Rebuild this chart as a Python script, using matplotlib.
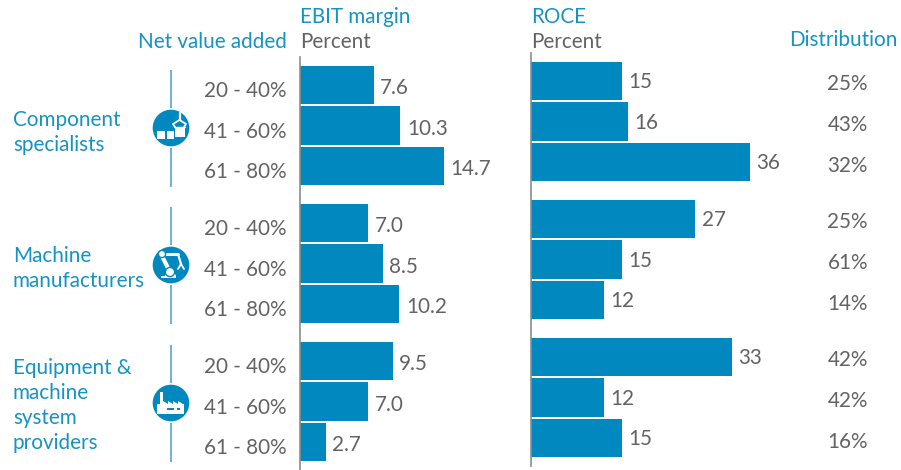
import matplotlib
matplotlib.use("Agg")
import matplotlib.pyplot as plt
from matplotlib.patches import Circle, Rectangle, Polygon

plt.rcParams['font.family'] = ['Lato', 'Open Sans', 'DejaVu Sans']

groups = [["Component", "specialists"],
          ["Machine", "manufacturers"],
          ["Equipment &", "machine", "system", "providers"]]
bands = ["20 - 40%", "41 - 60%", "61 - 80%"]
ebit = [[7.6, 10.3, 14.7], [7.0, 8.5, 10.2], [9.5, 7.0, 2.7]]
roce = [[15, 16, 36], [27, 15, 12], [33, 12, 15]]
distribution = [[25, 43, 32], [25, 61, 14], [42, 42, 16]]

BLUE = "#0088BF"
TXT_BLUE = "#1593C4"
LINE_BLUE = "#5BB0D6"
GREY = "#636363"
AXIS = "#8C8C8C"
FS = 14.9

W, H = 901, 470
fig = plt.figure(figsize=(W / 100, H / 100), dpi=100, facecolor="white")

ov = fig.add_axes([0, 0, 1, 1], zorder=1)
ov.set_xlim(0, W); ov.set_ylim(H, 0); ov.axis("off")

def row_y(top, g, r):
    return top + g * 138 + r * 40.5

def bar_panel(x0, x1, y0, y1, top, xmax, values, fmt, label_dy):
    ax = fig.add_axes([x0 / W, 1 - y1 / H, (x1 - x0) / W, (y1 - y0) / H], zorder=2)
    ax.patch.set_alpha(0)
    ax.set_xlim(0, xmax); ax.set_ylim(y1, y0)
    for g, vals in enumerate(values):
        for r, v in enumerate(vals):
            y = row_y(top, g, r)
            ax.barh(y, v, height=38.8, color=BLUE, linewidth=0)
            ax.annotate(fmt(v), (v, y), xytext=(4.6, label_dy), textcoords="offset points",
                        va="center", ha="left", fontsize=FS, color=GREY)
    for s in ("top", "right", "bottom"):
        ax.spines[s].set_visible(False)
    ax.spines["left"].set_color(AXIS); ax.spines["left"].set_linewidth(1.2)
    ax.set_xticks([]); ax.set_yticks([])
    return ax

# xmax = width in px / px per unit
bar_panel(299.5, 520, 57, 470, 85, (520 - 299.5) / 9.8, ebit, lambda v: f"{v:.1f}", -2.4)
bar_panel(531, 790, 53, 466, 81, (790 - 531) / 6.08, roce, lambda v: f"{v}", -0.9)

# Headers
ov.text(300.5, 17, "EBIT margin", color=TXT_BLUE, fontsize=FS, va="center")
ov.text(300.5, 42.5, "Percent", color=GREY, fontsize=FS, va="center")
ov.text(287, 42.5, "Net value added", color=TXT_BLUE, fontsize=FS, va="center", ha="right")
ov.text(531.5, 17, "ROCE", color=TXT_BLUE, fontsize=FS, va="center")
ov.text(531.5, 42.5, "Percent", color=GREY, fontsize=FS, va="center")
ov.text(789.5, 40.5, "Distribution", color=TXT_BLUE, fontsize=FS, va="center")

# Row labels and distribution
for g in range(3):
    for r, b in enumerate(bands):
        ov.text(287, row_y(91, g, r), b, color=GREY, fontsize=FS, va="center", ha="right")
        ov.text(868, row_y(84.5, g, r), f"{distribution[g][r]}%", color=GREY, fontsize=FS,
                va="center", ha="right")

# Group labels
for lines, y0 in zip(groups, (119.5, 255.5, 367.5)):
    for i, t in enumerate(lines):
        ov.text(13, y0 + i * 25.2, t, color=TXT_BLUE, fontsize=FS, va="center")

# Vertical rules and icons
for g, cy in enumerate((128, 265, 403)):
    ov.plot([171, 171], [cy - 58.5, cy + 58.5], color=LINE_BLUE, lw=1.3, zorder=1, solid_capstyle="butt")
    ov.add_patch(Circle((171, cy), 20, fc="white", ec="none", zorder=2))
    ov.add_patch(Circle((171, cy), 18.3, fc=BLUE, ec="none", zorder=3))

def wrect(x, y, w, h):
    ov.add_patch(Rectangle((x, y), w, h, fc="white", ec="none", zorder=4))

def wline(xs, ys, lw=1.3):
    ov.plot(xs, ys, color="white", lw=lw, zorder=4, solid_capstyle="round")

# Icon 1: boxes and gripper
cx, cy = 171, 128
wrect(cx - 14, cy + 3, 8, 8); wrect(cx - 4, cy + 3, 7, 8)
wrect(cx + 4, cy, 10, 9)
wline([cx + 8.5, cx + 8.5], [cy - 15, cy - 8], 1.6)
wline([cx + 8.5, cx + 2, cx + 4], [cy - 8, cy - 4, cy - 1])
wline([cx + 8.5, cx + 15, cx + 13], [cy - 8, cy - 4, cy - 1])
wline([cx + 3, cx + 14], [cy - 1.5, cy - 1.5], 1.0)

# Icon 2: robot arm
cx, cy = 171, 265
wrect(cx - 10, cy + 11, 15, 2)
wline([cx - 1, cx - 9], [cy + 7, cy - 9], 3)
wline([cx - 9, cx + 7], [cy - 11, cy - 11], 2.2)
wline([cx + 7, cx + 10], [cy - 11, cy - 1], 1.6)
wline([cx + 10, cx + 7], [cy - 1, cy + 4])
wline([cx + 10, cx + 13], [cy - 1, cy + 4])
for px, py, rad in ((-9, -11, 3.6), (-1, 7, 4.6)):
    ov.add_patch(Circle((cx + px, cy + py), rad, fc="white", ec=BLUE, lw=1, zorder=5))
ov.add_patch(Polygon([(cx - 6, cy + 11), (cx - 3, cy + 4), (cx + 2, cy + 4), (cx + 5, cy + 11)],
                     fc="white", ec="none", zorder=4))

# Icon 3: factory
cx, cy = 171, 403
wrect(cx - 11, cy - 11, 3, 14)
saw = [(cx - 8, cy + 1), (cx - 8, cy - 2), (cx - 3, cy + 1), (cx - 3, cy - 2), (cx + 2, cy + 1),
       (cx + 2, cy - 2), (cx + 7, cy + 1), (cx + 7, cy - 2), (cx + 12, cy + 1)]
ov.add_patch(Polygon(saw, fc="white", ec="none", zorder=4))
wrect(cx - 14, cy + 1, 27, 10)
ov.add_patch(Rectangle((cx - 4, cy + 5), 7, 2, fc=BLUE, ec="none", zorder=5))
ov.add_patch(Rectangle((cx + 6, cy + 5), 3, 2, fc=BLUE, ec="none", zorder=5))

fig.savefig("out.png", dpi=100, facecolor="white")
